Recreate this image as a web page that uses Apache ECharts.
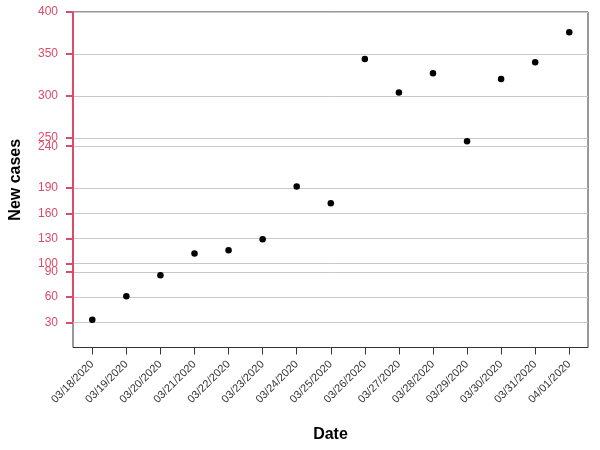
<!DOCTYPE html>
<html>
<head>
<meta charset="utf-8">
<script src="https://cdn.jsdelivr.net/npm/echarts@6/dist/echarts.min.js"></script>
<style>
  html, body { margin: 0; padding: 0; background: #fff; }
  #chart { width: 600px; height: 450px; }
</style>
</head>
<body>
<div id="chart"></div>
<script>
// dates on the x axis
var dates = ['03/18/2020', '03/19/2020', '03/20/2020', '03/21/2020', '03/22/2020',
  '03/23/2020', '03/24/2020', '03/25/2020', '03/26/2020', '03/27/2020',
  '03/28/2020', '03/29/2020', '03/30/2020', '03/31/2020', '04/01/2020'];
// new cases per day
var newCases = [33, 61, 86, 112, 116, 129, 192, 172, 344, 304, 327, 246, 320, 340, 376];
// labelled ticks on the y axis
var yTicks = [30, 60, 90, 100, 130, 160, 190, 240, 250, 300, 350, 400];

var red = '#dc4a68';
var font = 'Liberation Sans, Arial, sans-serif';

var xIdx = dates.map(function (d, i) { return i; });
var points = newCases.map(function (v, i) { return [i, v]; });
var xMin = -0.566, xMax = dates.length - 1 + 0.55;

var chart = echarts.init(document.getElementById('chart'));
chart.setOption({
  animation: false,
  grid: {
    left: 73, right: 12, top: 12, bottom: 102.5,
    outerBoundsMode: 'none',
    containLabel: false,
    show: true, borderColor: '#333', borderWidth: 1
  },
  xAxis: {
    type: 'value',
    min: xMin, max: xMax,
    name: 'Date',
    nameLocation: 'middle',
    nameGap: 79,
    nameTextStyle: { fontFamily: font, fontSize: 16, fontWeight: 'bold', color: '#000' },
    axisLine: { show: false, onZero: false },
    axisTick: { show: true, length: 7, customValues: xIdx, lineStyle: { color: '#333' } },
    axisLabel: {
      customValues: xIdx,
      rotate: 45,
      margin: 15,
      fontFamily: font, fontSize: 11, color: '#333',
      formatter: function (v) { return dates[Math.round(v)]; }
    },
    splitLine: { show: false }
  },
  yAxis: {
    type: 'value',
    min: 0, max: 400, interval: 30,
    name: 'New cases',
    nameLocation: 'middle',
    nameGap: 49,
    nameTextStyle: { fontFamily: font, fontSize: 16, fontWeight: 'bold', color: '#000' },
    axisLine: { show: false, onZero: false },
    axisTick: { show: true, length: 7, customValues: yTicks, lineStyle: { color: red, width: 2 } },
    axisLabel: {
      customValues: yTicks,
      margin: 15,
      fontFamily: font, fontSize: 12, color: red
    },
    splitLine: { show: true, lineStyle: { color: '#c8c8c8', width: 1 } }
  },
  series: [{
    type: 'scatter',
    data: points,
    symbolSize: 6.5,
    itemStyle: { color: '#000', opacity: 1 },
    markLine: {
      silent: true,
      symbol: ['none', 'none'],
      label: { show: false },
      lineStyle: { color: red, width: 2, type: 'solid' },
      data: [[{ coord: [xMin, yTicks[0]] }, { coord: [xMin, yTicks[yTicks.length - 1]] }]]
    }
  }]
});
</script>
</body>
</html>
